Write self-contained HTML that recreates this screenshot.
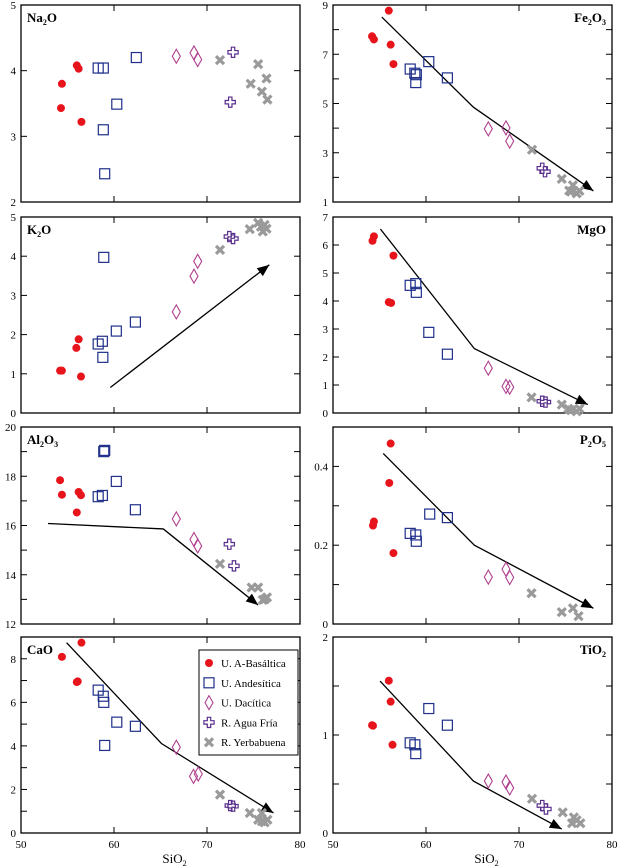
<!DOCTYPE html>
<html><head><meta charset="utf-8"><style>
body{margin:0;background:#fff;}
svg{display:block;font-family:"Liberation Serif",serif;}
</style></head><body>
<svg id="chart" width="622" height="868" viewBox="0 0 622 868"></svg>
<script>
const categories = ["U. A-Basáltica","U. Andesítica","U. Dacítica","R. Agua Fría","R. Yerbabuena"];
const xTicks = [50,60,70,80];
// Na2O
const na2oBas = [[54.3,3.43],[54.4,3.8],[56.0,4.08],[56.2,4.03],[56.5,3.22]];
const na2oAnd = [[58.3,4.04],[58.85,4.04],[62.4,4.2],[60.3,3.49],[58.85,3.1],[59.0,2.43]];
const na2oDac = [[66.7,4.22],[68.6,4.27],[69.0,4.17]];
const na2oAgua = [[72.8,4.28],[72.5,3.52]];
const na2oYer = [[71.4,4.16],[75.5,4.1],[74.7,3.8],[75.9,3.68],[76.4,3.88],[76.5,3.56]];
const na2oTrend = [];
// Fe2O3
const fe2o3Bas = [[56.0,8.77],[54.2,7.73],[54.4,7.6],[56.2,7.39],[56.5,6.6]];
const fe2o3And = [[58.3,6.4],[58.8,6.23],[58.96,6.17],[58.9,5.85],[60.3,6.7],[62.3,6.04]];
const fe2o3Dac = [[66.7,3.97],[68.6,4.01],[69.0,3.47]];
const fe2o3Agua = [[72.5,2.37],[72.8,2.23]];
const fe2o3Yer = [[71.4,3.12],[74.6,1.94],[75.8,1.68],[75.6,1.42],[76.2,1.35],[76.5,1.45],[75.4,1.46]];
const fe2o3Trend = [[55.25,8.51],[65.1,4.85],[78.0,1.45]];
// K2O
const k2oBas = [[54.2,1.08],[54.4,1.08],[55.95,1.66],[56.2,1.88],[56.45,0.93]];
const k2oAnd = [[58.9,3.97],[58.3,1.76],[58.75,1.83],[58.8,1.42],[60.25,2.09],[62.3,2.32]];
const k2oDac = [[66.7,2.58],[68.6,3.49],[69.0,3.87]];
const k2oAgua = [[72.4,4.5],[72.8,4.45]];
const k2oYer = [[71.4,4.16],[74.6,4.69],[75.5,4.85],[76.2,4.8],[76.0,4.63],[76.4,4.7],[75.8,4.75]];
const k2oTrend = [[59.6,0.65],[76.7,3.78]];
// MgO
const mgoBas = [[54.4,6.31],[54.25,6.15],[56.5,5.62],[56.0,3.96],[56.25,3.93]];
const mgoAnd = [[58.3,4.56],[58.9,4.62],[58.96,4.31],[60.3,2.88],[62.3,2.1]];
const mgoDac = [[66.7,1.6],[68.6,0.95],[69.0,0.92]];
const mgoAgua = [[72.5,0.42],[72.85,0.39]];
const mgoYer = [[71.35,0.56],[74.6,0.3],[75.6,0.1],[76.2,0.06],[76.5,0.15],[75.3,0.15]];
const mgoTrend = [[55.1,6.57],[65.2,2.3],[77.4,0.3]];
// Al2O3
const al2o3Bas = [[54.2,17.84],[54.4,17.25],[56.2,17.36],[56.45,17.23],[56.0,16.53]];
const al2o3And = [[58.9,19.0],[59.0,19.05],[58.3,17.17],[58.75,17.22],[60.25,17.79],[62.3,16.64]];
const al2o3Dac = [[66.7,16.27],[68.6,15.43],[69.0,15.17]];
const al2o3Agua = [[72.4,15.24],[72.9,14.36]];
const al2o3Yer = [[71.4,14.44],[74.8,13.48],[75.5,13.48],[76.0,12.98],[76.45,13.08],[76.2,13.0]];
const al2o3Trend = [[52.9,16.08],[65.3,15.86],[75.5,12.77]];
// P2O5
const p2o5Bas = [[56.2,0.458],[56.05,0.358],[54.4,0.26],[54.3,0.25],[56.5,0.18]];
const p2o5And = [[60.4,0.279],[62.3,0.27],[58.3,0.23],[58.9,0.226],[58.96,0.21]];
const p2o5Dac = [[66.7,0.119],[68.6,0.139],[69.0,0.118]];
const p2o5Agua = [];
const p2o5Yer = [[71.35,0.078],[74.6,0.03],[75.8,0.04],[76.4,0.02]];
const p2o5Trend = [[55.4,0.433],[65.2,0.2],[78.0,0.04]];
// CaO
const caoBas = [[54.4,8.09],[56.5,8.74],[56.1,6.96],[56.0,6.93]];
const caoAnd = [[58.3,6.56],[58.85,6.28],[58.9,6.0],[60.3,5.09],[62.3,4.9],[59.0,4.02]];
const caoDac = [[66.7,3.94],[68.55,2.6],[69.06,2.71]];
const caoAgua = [[72.5,1.26],[72.8,1.23]];
const caoYer = [[71.4,1.76],[74.6,0.92],[75.9,0.92],[75.5,0.61],[76.2,0.49],[76.5,0.61],[75.9,0.54]];
const caoTrend = [[54.9,8.74],[65.1,4.11],[77.15,0.92]];
// TiO2
const tio2Bas = [[56.0,1.554],[56.2,1.34],[54.2,1.1],[54.3,1.095],[56.4,0.9]];
const tio2And = [[60.3,1.27],[62.3,1.1],[58.3,0.92],[58.8,0.9],[58.9,0.81]];
const tio2Dac = [[66.7,0.53],[68.6,0.52],[69.0,0.46]];
const tio2Agua = [[72.5,0.28],[72.9,0.245]];
const tio2Yer = [[71.4,0.35],[74.7,0.21],[75.9,0.16],[75.7,0.1],[76.6,0.1],[76.2,0.13]];
const tio2Trend = [[55.06,1.55],[65.1,0.53],[74.6,0.04]];

const NS="http://www.w3.org/2000/svg";
const svg=document.getElementById('chart');
function el(tag,attrs,parent){const e=document.createElementNS(NS,tag);for(const k in attrs)e.setAttribute(k,attrs[k]);(parent||svg).appendChild(e);return e;}

const COLS=[[21,300],[333,612]];
const ROWS=[[5,202],[217,413],[427,624],[637,833]];
const panels=[
 {key:'na2o',title:['Na','2','O'],col:0,row:0,ymin:2,ymax:5,tick:1,labels:[2,3,4,5],tl:'left',data:[na2oBas,na2oAnd,na2oDac,na2oAgua,na2oYer],trend:na2oTrend},
 {key:'fe2o3',title:['Fe','2','O','3'],col:1,row:0,ymin:1,ymax:9,tick:1,labels:[1,3,5,7,9],tl:'right',data:[fe2o3Bas,fe2o3And,fe2o3Dac,fe2o3Agua,fe2o3Yer],trend:fe2o3Trend},
 {key:'k2o',title:['K','2','O'],col:0,row:1,ymin:0,ymax:5,tick:1,labels:[0,1,2,3,4,5],tl:'left',data:[k2oBas,k2oAnd,k2oDac,k2oAgua,k2oYer],trend:k2oTrend},
 {key:'mgo',title:['MgO'],col:1,row:1,ymin:0,ymax:7,tick:1,labels:[0,1,2,3,4,5,6,7],tl:'right',data:[mgoBas,mgoAnd,mgoDac,mgoAgua,mgoYer],trend:mgoTrend},
 {key:'al2o3',title:['Al','2','O','3'],col:0,row:2,ymin:12,ymax:20,tick:1,labels:[12,14,16,18,20],tl:'left',data:[al2o3Bas,al2o3And,al2o3Dac,al2o3Agua,al2o3Yer],trend:al2o3Trend},
 {key:'p2o5',title:['P','2','O','5'],col:1,row:2,ymin:0,ymax:0.5,tick:0.1,labels:[0,0.2,0.4],tl:'right',data:[p2o5Bas,p2o5And,p2o5Dac,p2o5Agua,p2o5Yer],trend:p2o5Trend},
 {key:'cao',title:['CaO'],col:0,row:3,ymin:0,ymax:9,tick:1,labels:[0,2,4,6,8],tl:'left',data:[caoBas,caoAnd,caoDac,caoAgua,caoYer],trend:caoTrend},
 {key:'tio2',title:['TiO','2'],col:1,row:3,ymin:0,ymax:2,tick:0.5,labels:[0,1,2],tl:'right',data:[tio2Bas,tio2And,tio2Dac,tio2Agua,tio2Yer],trend:tio2Trend},
];

function marker(g,type,cx,cy){
  let m;
  if(type===0){m=el('circle',{cx:cx,cy:cy,r:4,fill:'#e8141c'},g);}
  else if(type===1){m=el('rect',{x:cx-5,y:cy-5,width:10,height:10,fill:'none',stroke:'#1f2f8a','stroke-width':1.2},g);}
  else if(type===2){m=el('path',{d:`M${cx} ${cy-7}L${cx+4} ${cy}L${cx} ${cy+7}L${cx-4} ${cy}Z`,fill:'none',stroke:'#b0408f','stroke-width':1.1},g);}
  else if(type===3){m=el('path',{d:`M${cx-1.7} ${cy-5.1}h3.4v3.4h3.4v3.4h-3.4v3.4h-3.4v-3.4h-3.4v-3.4h3.4Z`,fill:'none',stroke:'#5a2e8c','stroke-width':1.2},g);}
  else {m=el('path',{d:`M${cx-4} ${cy-4}L${cx+4} ${cy+4}M${cx+4} ${cy-4}L${cx-4} ${cy+4}`,fill:'none',stroke:'#9a9a9a','stroke-width':3.2},g);}
  return m;
}
const markerNames=['basaltica-point','andesitica-point','dacitica-point','agua-fria-point','yerbabuena-point'];

panels.forEach(p=>{
  const [x0,x1]=COLS[p.col],[y0,y1]=ROWS[p.row];
  const sx=v=>x0+(v-50)/30*(x1-x0);
  const sy=v=>y1-(v-p.ymin)/(p.ymax-p.ymin)*(y1-y0);
  const g=el('g',{});
  
  
  const fr=el('rect',{x:x0,y:y0,width:x1-x0,height:y1-y0,fill:'none',stroke:'#000','stroke-width':1.3},g);
  
  
  const n=Math.round((p.ymax-p.ymin)/p.tick);
  for(let i=1;i<n;i++){const y=sy(p.ymin+i*p.tick);
    el('line',{x1:x0,x2:x0+6,y1:y,y2:y,stroke:'#000','stroke-width':1},g);
    el('line',{x1:x1-6,x2:x1,y1:y,y2:y,stroke:'#000','stroke-width':1},g);}
  [60,70].forEach(v=>{const x=sx(v);
    el('line',{x1:x,x2:x,y1:y0,y2:y0+6,stroke:'#000','stroke-width':1},g);
    el('line',{x1:x,x2:x,y1:y1-6,y2:y1,stroke:'#000','stroke-width':1},g);});
  p.labels.forEach(v=>{const t=el('text',{x:x0-5,y:sy(v)+4,'text-anchor':'end','font-size':11,fill:'#000'},g);
    t.textContent=String(v);
    
    });
  const tx = p.tl==='left'? x0+6 : x1-6;
  const t=el('text',{x:tx,y:y0+17,'text-anchor':p.tl==='left'?'start':'end','font-size':13,'font-weight':'bold',fill:'#000'},g);
  p.title.forEach((s,i)=>{const ts=el('tspan',{},t);ts.textContent=s;
    if(/^\d$/.test(s)){ts.setAttribute('font-size',8);ts.setAttribute('dy',3);}
    else if(i>0&&/^\d$/.test(p.title[i-1])){ts.setAttribute('dy',-3);}});
  
  
  if(p.trend.length){
    const pts=p.trend.map(d=>[sx(d[0]),sy(d[1])]);
    const line=el('polyline',{points:pts.map(q=>q.join(',')).join(' '),fill:'none',stroke:'#000','stroke-width':1.3},g);
    
    
    const a=pts[pts.length-2],b=pts[pts.length-1];
    const ang=Math.atan2(b[1]-a[1],b[0]-a[0]);
    const L=12,W=5;
    const bx=b[0]-L*Math.cos(ang),by=b[1]-L*Math.sin(ang);
    const head=el('path',{d:`M${b[0]} ${b[1]}L${bx+W*Math.sin(ang)} ${by-W*Math.cos(ang)}L${bx-W*Math.sin(ang)} ${by+W*Math.cos(ang)}Z`,fill:'#000'},g);
    
    
  }
  p.data.forEach((arr,si)=>{arr.forEach(d=>{
    const m=marker(g,si,sx(d[0]),sy(d[1]));
    
    });});
  if(p.row===3){
    xTicks.forEach(v=>{const xt=el('text',{x:sx(v),y:y1+15,'text-anchor':'middle','font-size':11,fill:'#000'},g);
      xt.textContent=String(v);
      
      });
    const at=el('text',{x:(x0+x1)/2+14,y:y1+30,'text-anchor':'middle','font-size':13,fill:'#000'},g);
    const a1=el('tspan',{},at);a1.textContent='SiO';
    const a2=el('tspan',{'font-size':8,dy:3},at);a2.textContent='2';
    
    
  }
});

const lg=el('g',{});


const lb=el('rect',{x:199,y:650,width:99,height:105,fill:'#fff',stroke:'#000','stroke-width':1},lg);


categories.forEach((c,i)=>{
  const y=663+i*19.8;
  const m=marker(lg,i,209,y);
  
  
  const t=el('text',{x:221,y:y+4,'font-size':11,fill:'#000'},lg);
  t.textContent=c;
  
  
});
</script>
</body></html>
